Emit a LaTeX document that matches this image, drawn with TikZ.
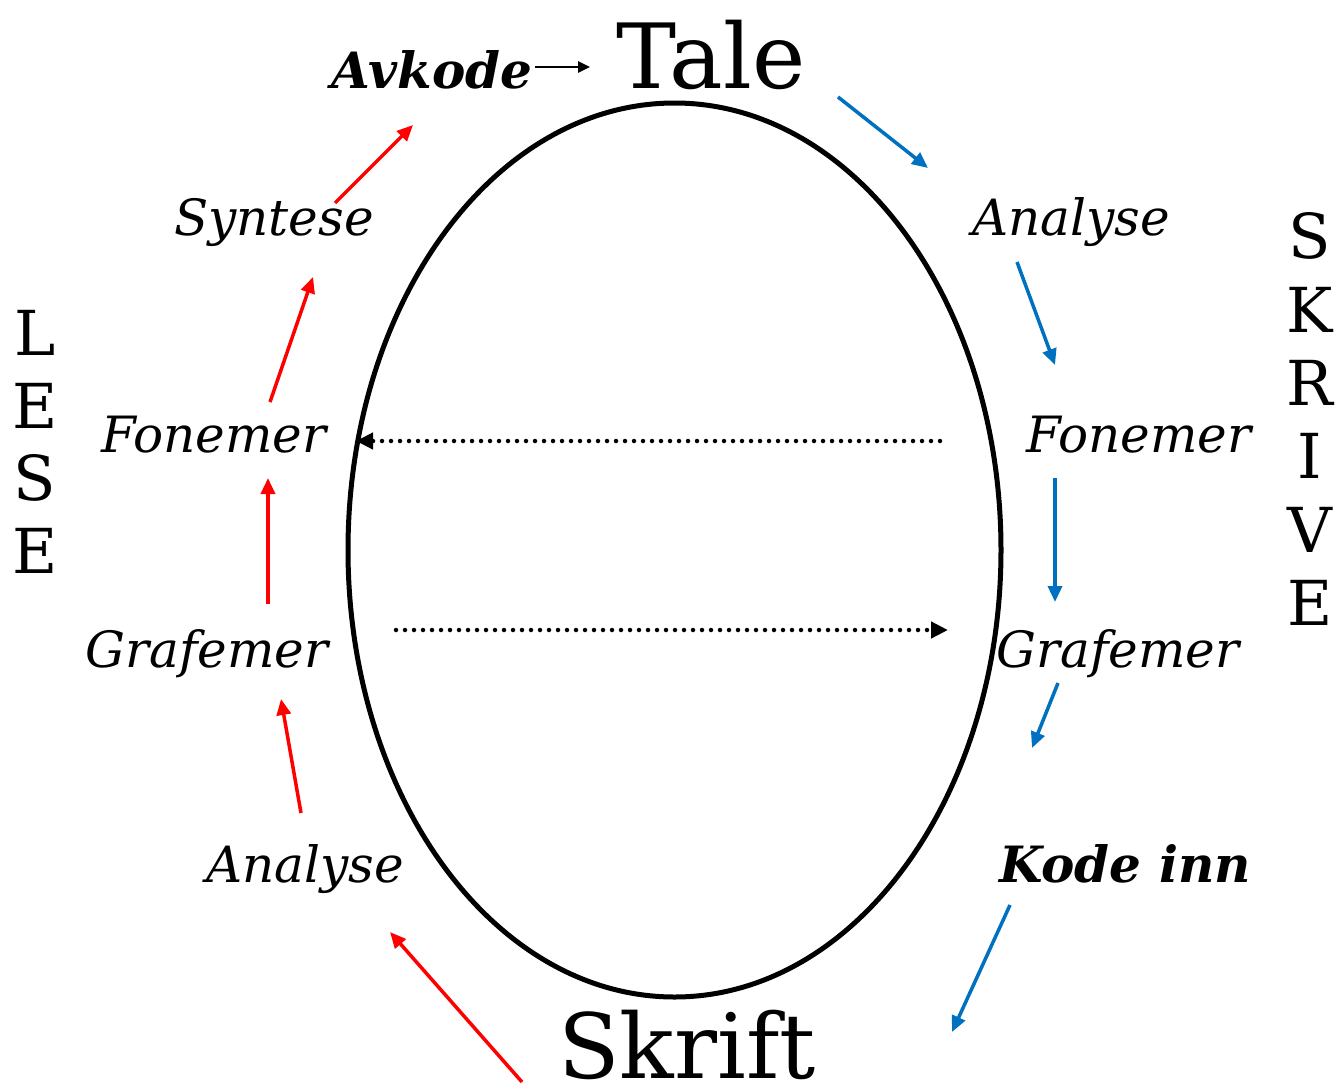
\documentclass[tikz,border=0pt]{standalone}
\usepackage{fontspec}
\setmainfont{DejaVu Serif}
\usetikzlibrary{arrows.meta,shapes.geometric}
\definecolor{redarr}{RGB}{255,0,0}
\definecolor{bluearr}{RGB}{0,112,192}
\tikzset{
  lbl/.style={inner sep=0pt, anchor=base, font=\fontsize{50}{54}\selectfont\itshape},
  boldlbl/.style={inner sep=0pt, anchor=base, font=\fontsize{50}{54}\selectfont\bfseries\itshape},
  big/.style={inner sep=0pt, anchor=base, text depth=0pt, font=\fontsize{90}{100}\selectfont},
  side/.style={inner sep=0pt, anchor=base, font=\fontsize{62}{68}\selectfont},
  redline/.style={draw=redarr, line width=3.5pt, -{Triangle[length=16pt,width=14pt]}},
  blueline/.style={draw=bluearr, line width=3.5pt, -{Triangle[length=16pt,width=14pt]}},
  dotline/.style={draw=black, line width=4.5pt, line cap=round, dash pattern=on 0pt off 9pt, -{Triangle[length=17pt,width=16pt,line cap=butt]}},
}
\begin{document}
\begin{tikzpicture}[x=1pt,y=-1pt]
\useasboundingbox (0,0) rectangle (1338,1084);
% ellipse
\node[draw, line width=5pt, ellipse, minimum width=653pt, minimum height=894pt, inner sep=0pt] (egg) at (674.5,550) {};
% top / bottom
\node[big] (tale) at (711,88) {Tale};
\node[big] (skrift) at (687,1078) {Skrift};
\node[boldlbl] (avkode) at (432,88) {Avkode};
% left
\node[lbl] (syntL) at (274,235) {Syntese};
\node[lbl] (fonL) at (214,452) {Fonemer};
\node[lbl] (grafL) at (207,667) {Grafemer};
\node[lbl] (anaL) at (305,882) {Analyse};
% right
\node[lbl] (anaR) at (1071,235) {Analyse};
\node[lbl] (fonR) at (1139,452) {Fonemer};
\node[lbl] (grafR) at (1118,667) {Grafemer};
\node[boldlbl] (kode) at (1125,882) {Kode inn};
% LESE
\node[side] (l1) at (35,355) {L};
\node[side] (l2) at (35,428) {E};
\node[side] (l3) at (35,500) {S};
\node[side] (l4) at (35,573) {E};
% SKRIVE
\node[side] (s1) at (1310,258) {S};
\node[side] (s2) at (1310,332) {K};
\node[side] (s3) at (1310,405) {R};
\node[side] (s4) at (1310,478) {I};
\node[side] (s5) at (1310,552) {V};
\node[side] (s6) at (1310,625) {E};
% arrow end points
\coordinate (avA) at (535,67); \coordinate (avB) at (590,67);
\coordinate (r1a) at (335,203); \coordinate (r1b) at (413,125);
\coordinate (r2a) at (270,402); \coordinate (r2b) at (313,277);
\coordinate (r3a) at (268,604); \coordinate (r3b) at (268,478);
\coordinate (r4a) at (301,813); \coordinate (r4b) at (281,699);
\coordinate (r5a) at (522,1082); \coordinate (r5b) at (390,932);
\coordinate (b1a) at (838,97); \coordinate (b1b) at (928,168);
\coordinate (b2a) at (1017,262); \coordinate (b2b) at (1055,365);
\coordinate (b3a) at (1055,478); \coordinate (b3b) at (1055,602);
\coordinate (b4a) at (1058,683); \coordinate (b4b) at (1032,748);
\coordinate (b5a) at (1010,905); \coordinate (b5b) at (952,1032);
\coordinate (d1a) at (940,441); \coordinate (d1b) at (356,441);
\coordinate (d2a) at (396,630); \coordinate (d2b) at (948,630);
% arrows
\draw[line width=2.5pt, -{Triangle[length=12pt,width=11pt]}] (avA) -- (avB);
\draw[redline] (r1a) -- (r1b);
\draw[redline] (r2a) -- (r2b);
\draw[redline] (r3a) -- (r3b);
\draw[redline] (r4a) -- (r4b);
\draw[redline] (r5a) -- (r5b);
\draw[blueline] (b1a) -- (b1b);
\draw[blueline] (b2a) -- (b2b);
\draw[blueline] (b3a) -- (b3b);
\draw[blueline] (b4a) -- (b4b);
\draw[blueline] (b5a) -- (b5b);
\draw[dotline] (d1a) -- (d1b);
\draw[dotline] (d2a) -- (d2b);
\end{tikzpicture}
\end{document}
